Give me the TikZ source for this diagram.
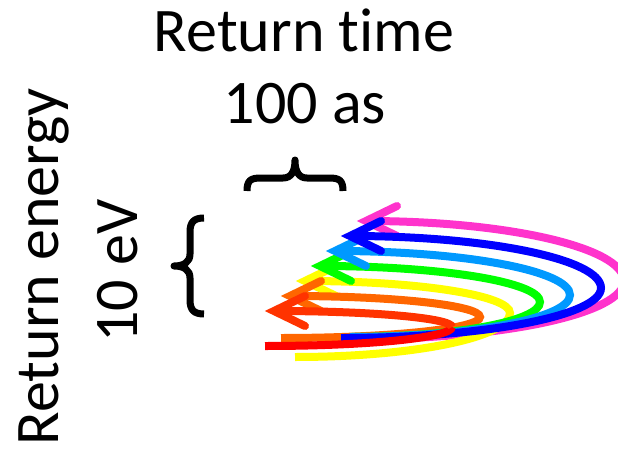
\documentclass[tikz,border=0pt]{standalone}
\usepackage{fontspec}
\setmainfont{Carlito}[Ligatures=NoCommon]
\definecolor{cpink}{HTML}{FF33CC}
\definecolor{cblue}{HTML}{0000FF}
\definecolor{clblue}{HTML}{0099FF}
\definecolor{cgreen}{HTML}{00FF00}
\definecolor{cyellow}{HTML}{FFFF00}
\definecolor{corange}{HTML}{FF6600}
\definecolor{cred}{HTML}{FF0000}
\definecolor{credor}{HTML}{FF3300}
\tikzset{
  traj/.style={line width=8pt, line cap=butt},
  barb/.style={line width=8pt, line cap=round, line join=miter, miter limit=10},
  bigtext/.style={font=\fontsize{62}{74}\selectfont, inner sep=0pt},
  bracestroke/.style={line width=7pt, line join=round, line cap=butt},
}
% (#1,#2) start, (#3,#4) right vertex
\newcommand\trajlow[4]{%
  (#1,#2) .. controls ({#1+0.5523*(#3-#1)},#2) and (#3,{#4+0.5523*(#2-#4)}) .. (#3,#4)}
% (#1,#2) right vertex, (#3,#4) tip
\newcommand\trajhigh[4]{%
  .. controls (#1,{#2-0.5523*(#2-#4)}) and ({#3+0.5523*(#1-#3)},#4) .. (#3,#4)}
% colour, start x,y, vertex x,y, tip x,y
\newcommand\traj[7]{%
  \draw[traj, #1] \trajlow{#2}{#3}{#4}{#5} \trajhigh{#4}{#5}{#6}{#7};
  \draw[barb, #1] ({#6+31},{#7-15}) -- (#6,#7) -- ({#6+31},{#7+15});}
\begin{document}
\begin{tikzpicture}[x=1pt,y=-1pt]
\useasboundingbox (0,0) rectangle (618,452);
\clip (0,0) rectangle (618,452);
% texts
\node[bigtext, anchor=base] (rt) at (304,52) {Return time};
\node[bigtext, anchor=base] (as) at (305,123) {100 as};
\node[bigtext, anchor=base, rotate=90] (re) at (58,267) {Return energy};
\node[bigtext, anchor=base, rotate=90] (ev) at (137,271) {10 eV};
% braces
\draw[bracestroke] (247,191) .. controls (247,180) and (251,178) .. (261,178) -- (283,178)
  .. controls (291,178) and (295,172) .. (295,160)
  .. controls (295,172) and (299,178) .. (307,178) -- (329,178)
  .. controls (339,178) and (343,180) .. (343,191);
\draw[bracestroke] (204,218) .. controls (194,218) and (190,222) .. (190,232) -- (190,254)
  .. controls (190,262) and (184,266) .. (174,266)
  .. controls (184,266) and (190,270) .. (190,278) -- (190,300)
  .. controls (190,310) and (194,314) .. (204,314);
% trajectories
\traj{cpink}{360}{339}{624}{281}{366}{221}
\traj{cyellow}{295}{357}{510}{313}{305}{281}
\traj{corange}{281}{338}{480}{317}{290}{296}
\traj{cgreen}{350}{337}{540}{302}{320}{266}
\traj{clblue}{350}{337}{570}{295}{335}{251}
\traj{cblue}{341}{338}{601}{288}{350}{236}
\draw[traj, cred] \trajlow{265}{346}{452}{327};
\draw[traj, credor] (452,327) \trajhigh{452}{327}{274}{311};
\draw[barb, credor] (305,296) -- (274,311) -- (305,326);
\end{tikzpicture}
\end{document}
